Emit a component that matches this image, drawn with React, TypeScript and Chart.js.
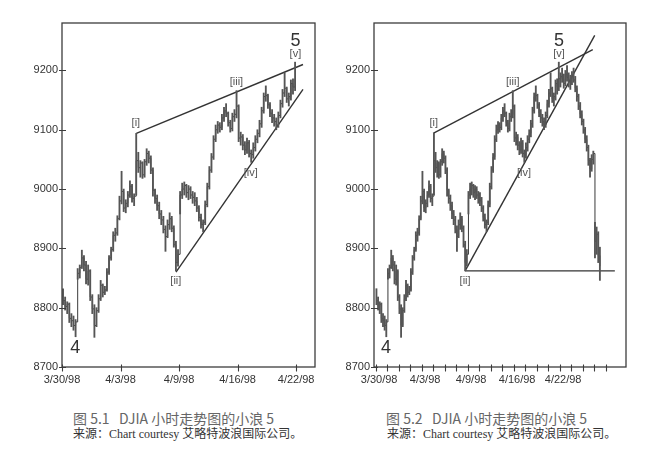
import React, { useEffect, useRef } from 'react';
import { Chart, registerables } from 'chart.js';

Chart.register(...registerables);

// Hourly DJIA bars, 3/30/98 - 4/27/98 (7 bars per trading day)
const barHighs = [
  8832, 8818, 8810, 8808, 8790, 8786, 8780,
  8866, 8872, 8897, 8888, 8878, 8872, 8864,
  8822, 8805, 8800, 8822, 8846, 8840, 8836,
  8866, 8888, 8902, 8928, 8934, 8955, 8988,
  9030, 9000, 8982, 8996, 9014, 9008, 8992,
  9094, 9062, 9048, 9046, 9050, 9068, 9064,
  9056, 9036, 9000, 8990, 8978, 8964, 8954,
  8938, 8948, 8960, 8954, 8938, 8912, 8898,
  8996, 9010, 9012, 9008, 9006, 9004, 8996,
  8994, 8986, 8972, 8958, 8948, 8980, 9010,
  9038, 9060, 9090, 9108, 9114, 9112, 9126,
  9138, 9144, 9130, 9116, 9128, 9134, 9166,
  9142, 9096, 9092, 9080, 9086, 9082, 9066,
  9078, 9090, 9100, 9116, 9138, 9162, 9174,
  9160, 9146, 9134, 9126, 9120, 9130, 9150,
  9168, 9196, 9172, 9162, 9184, 9186, 9214,
  9196, 9204, 9194, 9200, 9208, 9196, 9192,
  9198, 9204, 9190, 9174, 9160, 9146, 9132,
  9118, 9104, 9090, 9074, 9052, 9058, 9064,
  8944, 8936, 8928, 8902,
];
const barLows = [
  8805, 8796, 8790, 8775, 8768, 8762, 8751,
  8848, 8850, 8866, 8862, 8840, 8838, 8812,
  8790, 8750, 8768, 8792, 8812, 8818, 8822,
  8828, 8856, 8880, 8895, 8912, 8922, 8948,
  8975, 8962, 8960, 8970, 8986, 8978, 8972,
  8990, 9028, 9020, 9018, 9020, 9040, 9044,
  9026, 8988, 8976, 8964, 8950, 8940, 8926,
  8895, 8918, 8932, 8928, 8902, 8862, 8870,
  8958, 8984, 8990, 8986, 8982, 8984, 8976,
  8972, 8962, 8946, 8934, 8928, 8940, 8970,
  9000, 9028, 9050, 9080, 9094, 9096, 9100,
  9114, 9122, 9106, 9096, 9098, 9114, 9120,
  9080, 9074, 9066, 9058, 9060, 9054, 9045,
  9052, 9064, 9078, 9088, 9104, 9128, 9148,
  9136, 9122, 9112, 9106, 9100, 9104, 9120,
  9138, 9156, 9146, 9140, 9150, 9160, 9166,
  9172, 9180, 9170, 9174, 9182, 9172, 9168,
  9176, 9180, 9164, 9148, 9134, 9120, 9108,
  9094, 9078, 9064, 9040, 9020, 9030, 9042,
  8884, 8890, 8876, 8846,
];
const barCloses = [
  8812, 8802, 8806, 8782, 8778, 8770, 8776,
  8858, 8868, 8884, 8872, 8848, 8862, 8818,
  8798, 8770, 8795, 8815, 8838, 8826, 8830,
  8860, 8884, 8898, 8922, 8926, 8950, 8980,
  8996, 8968, 8976, 8990, 9005, 8984, 8988,
  9048, 9036, 9044, 9024, 9046, 9060, 9052,
  9032, 8998, 8984, 8972, 8958, 8948, 8932,
  8920, 8940, 8950, 8934, 8906, 8876, 8890,
  8990, 9000, 9006, 8994, 9000, 8990, 8986,
  8980, 8968, 8952, 8940, 8944, 8974, 9004,
  9032, 9054, 9084, 9100, 9108, 9104, 9120,
  9132, 9128, 9112, 9102, 9122, 9126, 9140,
  9086, 9088, 9074, 9066, 9078, 9060, 9058,
  9070, 9084, 9094, 9110, 9132, 9156, 9158,
  9142, 9128, 9120, 9114, 9108, 9124, 9144,
  9162, 9170, 9152, 9156, 9178, 9172, 9186,
  9190, 9186, 9178, 9194, 9188, 9182, 9186,
  9190, 9184, 9170, 9156, 9140, 9126, 9114,
  9100, 9084, 9070, 9048, 9034, 9050, 9060,
  8912, 8924, 8888, 8870,
];
const BARS_PER_DAY = 7;
const LEFT_BAR_COUNT = 112;

const yTickValues = [8700, 8800, 8900, 9000, 9100, 9200];
const leftTickDays = [0, 4, 8, 12, 16];
const rightTickDays = [0, 1, 2, 3, 4, 5, 6, 7, 8, 9, 10, 11, 12, 13, 14, 15, 16, 17, 18, 19, 20];
const dateTickDays = [0, 4, 8, 12, 16];
const dateTickLabels = ['3/30/98', '4/3/98', '4/9/98', '4/16/98', '4/22/98'];

const waveLabels = ['[i]', '[ii]', '[iii]', '[iv]', '[v]', '5', '4'];
const waveLabelDays = [5.05, 7.78, 11.92, 12.9, 15.95, 15.95, 0.9];
const waveLabelValues = [9112, 8845, 9181, 9027, 9228, 9250, 8732];
const waveLabelBig = [false, false, false, false, false, true, true];

// trend lines: [startDay, endDay], [startValue, endValue]
const leftUpperDays = [5.08, 16.47];
const leftUpperValues = [9094, 9210];
const leftLowerDays = [7.79, 16.47];
const leftLowerValues = [8860, 9168];
const rightUpperDays = [5.0, 18.88];
const rightUpperValues = [9094, 9235];
const rightLowerDays = [7.78, 19.05];
const rightLowerValues = [8862, 9259];
const rightFloorDays = [7.78, 20.8];
const rightFloorValues = [8862, 8862];

type Line = { days: number[]; values: number[] };
type Props = {
  left: number;
  count: number;
  xMin: number;
  xMax: number;
  tickDays: number[];
  labelOffset: number;
  axisWidth: number;
  padRight: number;
  lines: Line[];
};

const CANVAS_W = 323;
const CANVAS_H = 395;
const PLOT_BOTTOM = 367;
const PLOT_TOP = 23;
const FONT = '"Liberation Sans", Arial, sans-serif';

function PriceChart(p: Props) {
  const ref = useRef<HTMLCanvasElement>(null);
  useEffect(() => {
    if (!ref.current) return;
    const pos = barHighs.slice(0, p.count).map((_, i) => (i + 0.5) / BARS_PER_DAY);
    const bars = pos.map((x, i) => ({ x, y: [barLows[i], barHighs[i]] }));
    const closes = pos.map((x, i) => ({ x, y: barCloses[i] }));

    const decor = {
      id: 'decor',
      afterDatasetsDraw(chart: any) {
        const { ctx, chartArea: a, scales } = chart;
        const sx = scales.x;
        const sy = scales.y;
        ctx.save();
        ctx.strokeStyle = '#3c3c3c';
        ctx.lineWidth = 1.3;
        ctx.strokeRect(a.left, a.top, a.right - a.left, a.bottom - a.top);
        ctx.beginPath();
        ctx.lineWidth = 1.1;
        p.tickDays.forEach((d) => {
          const px = Math.round(sx.getPixelForValue(d)) + 0.5;
          ctx.moveTo(px, a.bottom - 2.5);
          ctx.lineTo(px, a.bottom + 4.5);
        });
        yTickValues.forEach((v) => {
          const py = Math.round(sy.getPixelForValue(v)) + 0.5;
          ctx.moveTo(a.left - 3, py);
          ctx.lineTo(a.left + 4, py);
        });
        ctx.stroke();
        ctx.textAlign = 'center';
        ctx.textBaseline = 'middle';
        waveLabels.forEach((t, i) => {
          const big = waveLabelBig[i];
          ctx.font = big ? `18px ${FONT}` : `11px ${FONT}`;
          ctx.fillStyle = big ? '#333' : '#555';
          ctx.fillText(t, sx.getPixelForValue(waveLabelDays[i]), sy.getPixelForValue(waveLabelValues[i]));
        });
        ctx.restore();
      },
    };

    const lineSets = p.lines.map((l) => ({
      type: 'line' as const,
      data: l.days.map((d, i) => ({ x: d, y: l.values[i] })),
      borderColor: '#333',
      borderWidth: 1.4,
      pointRadius: 0,
      fill: false,
    }));

    const chart = new Chart(ref.current, {
      type: 'bar',
      data: {
        datasets: [
          {
            type: 'bar',
            data: bars as any,
            backgroundColor: '#555',
            borderWidth: 0,
            barThickness: 1.2,
          } as any,
          {
            type: 'line',
            data: closes,
            borderColor: '#3a3a3a',
            borderWidth: 1,
            pointRadius: 0,
            stepped: 'before',
            fill: false,
          } as any,
          ...lineSets,
        ],
      },
      options: {
        animation: false,
        responsive: true,
        maintainAspectRatio: false,
        events: [],
        layout: { padding: { top: PLOT_TOP, right: p.padRight, left: 0, bottom: 0 } },
        plugins: { legend: { display: false }, tooltip: { enabled: false } },
        scales: {
          x: {
            type: 'linear',
            min: p.xMin,
            max: p.xMax,
            offset: false,
            grid: { display: false, drawTicks: false },
            border: { display: false },
            afterBuildTicks: (scale: any) => {
              scale.ticks = p.tickDays.map((v) => ({ value: v }));
            },
            afterFit: (scale: any) => {
              scale.height = CANVAS_H - PLOT_BOTTOM;
            },
            ticks: {
              autoSkip: false,
              maxRotation: 0,
              minRotation: 0,
              padding: 6,
              labelOffset: p.labelOffset,
              color: '#333',
              font: { family: FONT, size: 11 },
              callback: (v: any) => {
                const k = dateTickDays.indexOf(Number(v));
                return k >= 0 ? dateTickLabels[k] : '';
              },
            },
          },
          y: {
            type: 'linear',
            min: 8700,
            max: 9280,
            grid: { display: false, drawTicks: false },
            border: { display: false },
            afterBuildTicks: (scale: any) => {
              scale.ticks = yTickValues.map((v) => ({ value: v }));
            },
            afterFit: (scale: any) => {
              scale.width = p.axisWidth;
            },
            ticks: {
              padding: 4,
              color: '#333',
              font: { family: FONT, size: 11 },
              callback: (v: any) => String(v),
            },
          },
        },
      } as any,
      plugins: [decor],
    });
    return () => chart.destroy();
  }, []);

  return (
    <div style={{ position: 'absolute', left: p.left, top: 0, width: CANVAS_W, height: CANVAS_H }}>
      <canvas ref={ref} style={{ display: 'block' }} />
    </div>
  );
}

const captionStyle: React.CSSProperties = {
  position: 'absolute',
  whiteSpace: 'pre',
  fontFamily: '"Noto Sans CJK SC", "Noto Sans", sans-serif',
  fontSize: 14,
  lineHeight: '16px',
  color: '#666',
};
const sourceStyle: React.CSSProperties = {
  position: 'absolute',
  whiteSpace: 'pre',
  fontFamily: '"Liberation Serif", "Noto Sans CJK SC", serif',
  fontSize: 12,
  lineHeight: '14px',
  color: '#333',
};

export default function App() {
  return (
    <div style={{ position: 'absolute', left: 0, top: 0, width: 646, height: 457, background: '#fff', overflow: 'hidden' }}>
      <PriceChart
        left={0}
        count={LEFT_BAR_COUNT}
        xMin={0}
        xMax={17.29}
        tickDays={leftTickDays}
        labelOffset={0}
        axisWidth={62}
        padRight={8}
        lines={[
          { days: leftUpperDays, values: leftUpperValues },
          { days: leftLowerDays, values: leftLowerValues },
        ]}
      />
      <PriceChart
        left={323}
        count={barHighs.length}
        xMin={-0.14}
        xMax={21.77}
        tickDays={rightTickDays}
        labelOffset={3.5}
        axisWidth={51}
        padRight={20}
        lines={[
          { days: rightUpperDays, values: rightUpperValues },
          { days: rightLowerDays, values: rightLowerValues },
          { days: rightFloorDays, values: rightFloorValues },
        ]}
      />
      <div style={{ ...captionStyle, left: 73, top: 410 }}>{'图 5.1   DJIA 小时走势图的小浪 5'}</div>
      <div style={{ ...sourceStyle, left: 73, top: 427 }}>{'来源：Chart courtesy 艾略特波浪国际公司。'}</div>
      <div style={{ ...captionStyle, left: 386, top: 410 }}>{'图 5.2   DJIA 小时走势图的小浪 5'}</div>
      <div style={{ ...sourceStyle, left: 387, top: 427 }}>{'来源：Chart courtesy 艾略特波浪国际公司。'}</div>
    </div>
  );
}
